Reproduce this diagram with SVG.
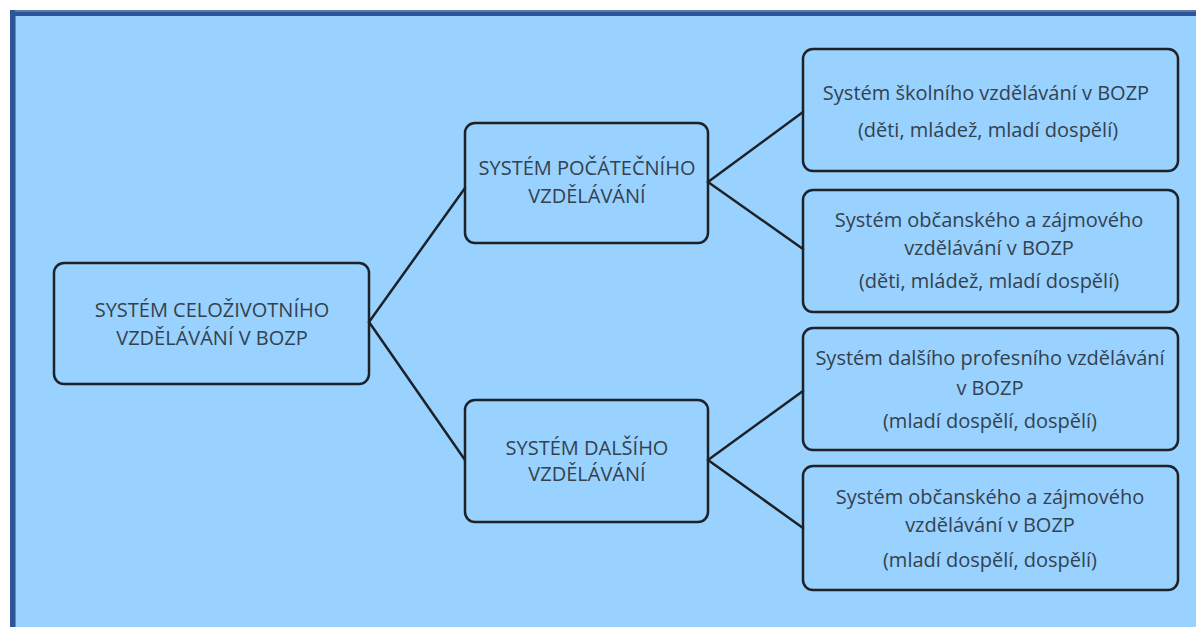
<svg xmlns="http://www.w3.org/2000/svg" width="1196" height="627" viewBox="0 0 1196 627">
  <style>
    .box { fill: none; stroke: #1c2228; stroke-width: 2.5; }
    .link { stroke: #1c2228; stroke-width: 2.5; fill: none; stroke-linecap: round; }
    .cap { font-family: "Open Sans", "Liberation Sans", sans-serif; font-size: 20px; fill: #34414f; text-anchor: middle; }
    .txt { font-family: "Open Sans", "Liberation Sans", sans-serif; font-size: 20px; fill: #34414f; text-anchor: middle; }
  </style>
  <!-- page background and frame -->
  <rect x="0" y="0" width="1196" height="627" fill="#ffffff"/>
  <rect x="10" y="10" width="1186" height="617" fill="#99d2fe"/>
  <rect x="10" y="10" width="1186" height="2" fill="#5b7bb0"/>
  <rect x="10" y="12" width="1186" height="4" fill="#2e5597"/>
  <rect x="10" y="10" width="5" height="617" fill="#2e5597"/>
  <rect x="15" y="16" width="1" height="611" fill="#5b8fd0"/>

  <g id="connectors">
    <line class="link" x1="369" y1="322" x2="465" y2="188"/>
    <line class="link" x1="369" y1="322" x2="465" y2="460"/>
    <line class="link" x1="708" y1="182" x2="803" y2="112"/>
    <line class="link" x1="708" y1="182" x2="803" y2="249"/>
    <line class="link" x1="708" y1="460" x2="803" y2="391"/>
    <line class="link" x1="708" y1="460" x2="803" y2="528"/>
  </g>

  <g id="root">
    <rect class="box" x="54" y="263" width="315" height="121" rx="10"/>
    <text class="cap" x="212" y="317">SYSTÉM CELOŽIVOTNÍHO</text>
    <text class="cap" x="212" y="345">VZDĚLÁVÁNÍ V BOZP</text>
  </g>

  <g id="initial">
    <rect class="box" x="465" y="123" width="243" height="120" rx="10"/>
    <text class="cap" x="587" y="175">SYSTÉM POČÁTEČNÍHO</text>
    <text class="cap" x="587" y="203">VZDĚLÁVÁNÍ</text>
  </g>

  <g id="further">
    <rect class="box" x="465" y="400" width="243" height="122" rx="10"/>
    <text class="cap" x="587" y="455">SYSTÉM DALŠÍHO</text>
    <text class="cap" x="587" y="481">VZDĚLÁVÁNÍ</text>
  </g>

  <g id="school">
    <rect class="box" x="803" y="49" width="375" height="122" rx="10"/>
    <text class="txt" x="986" y="100">Systém školního vzdělávání v BOZP</text>
    <text class="txt" x="988" y="137">(děti, mládež, mladí dospělí)</text>
  </g>

  <g id="civic-young">
    <rect class="box" x="803" y="190" width="375" height="122" rx="10"/>
    <text class="txt" x="989" y="227">Systém občanského a zájmového</text>
    <text class="txt" x="989" y="255">vzdělávání v BOZP</text>
    <text class="txt" x="989" y="288">(děti, mládež, mladí dospělí)</text>
  </g>

  <g id="professional">
    <rect class="box" x="803" y="328" width="375" height="122" rx="10"/>
    <text class="txt" x="990" y="365">Systém dalšího profesního vzdělávání</text>
    <text class="txt" x="990" y="395">v BOZP</text>
    <text class="txt" x="990" y="428">(mladí dospělí, dospělí)</text>
  </g>

  <g id="civic-adult">
    <rect class="box" x="803" y="466" width="375" height="124" rx="10"/>
    <text class="txt" x="990" y="504">Systém občanského a zájmového</text>
    <text class="txt" x="990" y="532">vzdělávání v BOZP</text>
    <text class="txt" x="990" y="567">(mladí dospělí, dospělí)</text>
  </g>
</svg>
